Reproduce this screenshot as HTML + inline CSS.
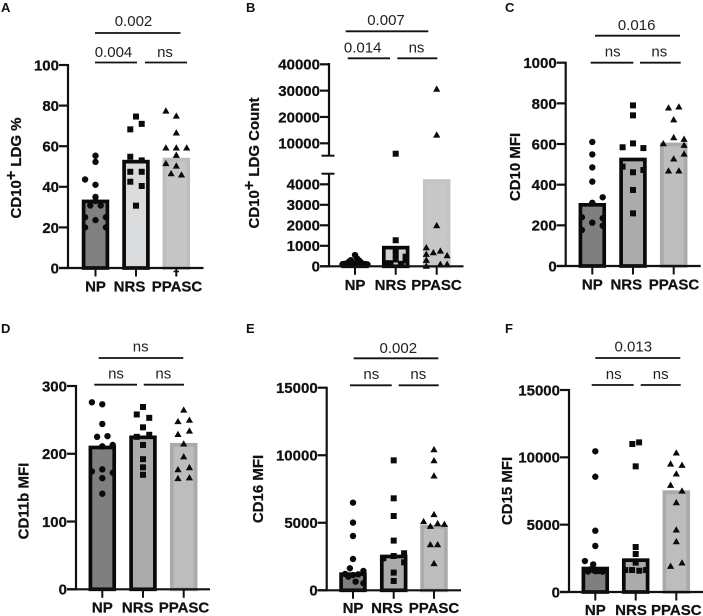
<!DOCTYPE html>
<html lang="en">
<head>
<meta charset="utf-8">
<title>CD10+ LDG panels</title>
<style>
html,body{margin:0;padding:0;background:#fff;}
body{width:703px;height:616px;overflow:hidden;}
svg{display:block;font-family:"Liberation Sans",sans-serif;}
.letter{font-size:13px;font-weight:700;fill:#111;}
.title{font-size:15px;font-weight:700;fill:#111;stroke:#111;stroke-width:.25px;text-anchor:middle;}
.cat{font-size:15px;font-weight:700;fill:#111;stroke:#111;stroke-width:.25px;text-anchor:middle;}
.tick{font-size:15px;font-weight:700;fill:#111;stroke:#111;stroke-width:.25px;text-anchor:end;}
.sig{font-size:15px;fill:#222;text-anchor:middle;}
.sl{stroke:#111;stroke-width:1.8;}
</style>
</head>
<body>
<svg id="figure" width="703" height="616" viewBox="0 0 703 616" xmlns="http://www.w3.org/2000/svg">
  <rect width="703" height="616" fill="#fff"/>

  <text class="letter" x="1" y="12">A</text>
  <text class="letter" x="246" y="12">B</text>
  <text class="letter" x="505" y="12">C</text>
  <text class="letter" x="1" y="333">D</text>
  <text class="letter" x="246" y="333">E</text>
  <text class="letter" x="505" y="333">F</text>

  <text class="title" transform="translate(21 168) rotate(-90)">CD10<tspan font-size="16" dy="-5">+</tspan><tspan dy="5"> LDG %</tspan></text>
  <text class="title" transform="translate(259 163) rotate(-90)">CD10<tspan font-size="16" dy="-5">+</tspan><tspan dy="5"> LDG Count</tspan></text>
  <text class="title" transform="translate(520 167) rotate(-90)">CD10 MFI</text>
  <text class="title" transform="translate(28.500 501) rotate(-90)">CD11b MFI</text>
  <text class="title" transform="translate(263 489) rotate(-90)">CD16 MFI</text>
  <text class="title" transform="translate(512 491) rotate(-90)">CD15 MFI</text>

  <g>
    <text class="cat" x="95.500" y="291.500">NP</text>
    <text class="cat" x="129.500" y="291.500">NRS</text>
    <text class="cat" x="177" y="291.500">PPASC</text>
  </g>
  <g>
    <text class="cat" x="355" y="290">NP</text>
    <text class="cat" x="390.500" y="290">NRS</text>
    <text class="cat" x="436.500" y="290">PPASC</text>
  </g>
  <g>
    <text class="cat" x="592.300" y="289.500">NP</text>
    <text class="cat" x="626.300" y="289.500">NRS</text>
    <text class="cat" x="674" y="289.500">PPASC</text>
  </g>
  <g>
    <text class="cat" x="102.300" y="612.500">NP</text>
    <text class="cat" x="137.700" y="612.500">NRS</text>
    <text class="cat" x="184" y="612.500">PPASC</text>
  </g>
  <g>
    <text class="cat" x="353" y="613">NP</text>
    <text class="cat" x="387" y="613">NRS</text>
    <text class="cat" x="434" y="613">PPASC</text>
  </g>
  <g>
    <text class="cat" x="595.300" y="615">NP</text>
    <text class="cat" x="631" y="615">NRS</text>
    <text class="cat" x="676.300" y="615">PPASC</text>
  </g>

  <g>
    <line class="sl" x1="95" x2="180.500" y1="33" y2="33"/>
    <text class="sig" x="133.500" y="26">0.002</text>
    <line class="sl" x1="95" x2="137" y1="62.500" y2="62.500"/>
    <text class="sig" x="113.500" y="57">0.004</text>
    <line class="sl" x1="145" x2="187" y1="62.500" y2="62.500"/>
    <text class="sig" x="165" y="57">ns</text>
  </g>
  <g>
    <line class="sl" x1="345.700" x2="428.300" y1="31.300" y2="31.300"/>
    <text class="sig" x="386" y="25">0.007</text>
    <line class="sl" x1="347.700" x2="390" y1="58.300" y2="58.300"/>
    <text class="sig" x="362.700" y="52.500">0.014</text>
    <line class="sl" x1="397.300" x2="437.300" y1="58.300" y2="58.300"/>
    <text class="sig" x="416.500" y="52.500">ns</text>
  </g>
  <g>
    <line class="sl" x1="595" x2="680" y1="35.700" y2="35.700"/>
    <text class="sig" x="636.700" y="30">0.016</text>
    <line class="sl" x1="590.700" x2="633.300" y1="62.700" y2="62.700"/>
    <text class="sig" x="612.700" y="56.700">ns</text>
    <line class="sl" x1="640" x2="680.700" y1="62.700" y2="62.700"/>
    <text class="sig" x="659.300" y="56.700">ns</text>
  </g>
  <g>
    <line class="sl" x1="98.700" x2="183.300" y1="358" y2="358"/>
    <text class="sig" x="140.700" y="351.500">ns</text>
    <line class="sl" x1="94.300" x2="137" y1="384.700" y2="384.700"/>
    <text class="sig" x="116" y="378.500">ns</text>
    <line class="sl" x1="143.700" x2="184" y1="384.700" y2="384.700"/>
    <text class="sig" x="163.300" y="378.500">ns</text>
  </g>
  <g>
    <line class="sl" x1="353.700" x2="438.300" y1="358.300" y2="358.300"/>
    <text class="sig" x="398.300" y="353">0.002</text>
    <line class="sl" x1="350" x2="391.700" y1="385.300" y2="385.300"/>
    <text class="sig" x="371.300" y="379">ns</text>
    <line class="sl" x1="398.700" x2="438.700" y1="385.300" y2="385.300"/>
    <text class="sig" x="418.300" y="379">ns</text>
  </g>
  <g>
    <line class="sl" x1="595.300" x2="680.300" y1="358" y2="358"/>
    <text class="sig" x="633.300" y="351.500">0.013</text>
    <line class="sl" x1="591.700" x2="633.700" y1="385" y2="385"/>
    <text class="sig" x="613.700" y="379">ns</text>
    <line class="sl" x1="640.700" x2="680.700" y1="385" y2="385"/>
    <text class="sig" x="660.700" y="379">ns</text>
  </g>
  <line x1="173.500" x2="179" y1="271.500" y2="271.500" stroke="#111" stroke-width="1.5"/>
</svg>

<script>
// ---- Data ----
const categories = ['np', 'nrs', 'ppasc'];

const ticksA = [0, 20, 40, 60, 80, 100];
const meansA = [33.7, 53.3, 54.3];
const npValuesA = [55.3, 52.3, 43.6, 41, 35, 33, 30.8, 30.8, 25, 25, 23.6, 20, 20];
const npSlotsA = [0, 0, -2, 0, 0, 0, -1, 1, -2, 2, 0, -2, 2];
const nrsValuesA = [74.6, 71, 68.3, 54.8, 53, 47.4, 47.4, 42.5, 40.4, 30.7];
const nrsSlotsA = [0, 1.1, -1.1, -1.1, 1.1, -1.1, 1.1, -1.1, 1.1, 0];
const ppascValuesA = [77.5, 75, 66.7, 59.3, 59.3, 59.3, 55.7, 51.6, 50.4, 46.6, 46];
const ppascSlotsA = [-2, 0, 0, -2, 0, 2, 0, -2, 0, -1, 1];

const ticksLowB = [0, 1000, 2000, 3000, 4000];
const ticksHighB = [10000, 20000, 30000, 40000];
const meansB = [200, 1000, 4250];
const npValuesB = [550, 380, 300, 280, 220, 180, 150, 150, 120, 110, 100, 90];
const npSlotsB = [0, 0.4, -0.8, 0.8, -1.2, 1.2, -0.4, 0.4, -2, 2, -2.4, 2.4];
const nrsValuesB = [6050, 1270, 470, 280, 800, 560, 330, 150, 150, 120];
const nrsSlotsB = [0, 0, 1.9, 1.9, 0, 0, 0, -1.9, -1, 1];
const ppascValuesB = [30700, 13270, 2000, 925, 760, 680, 600, 535, 310, 110, 110, 20];
const ppascSlotsB = [0, 0, 0, -2, 0.7, -0.65, -2, 2, -2, 0.7, 2, -2];

const ticksC = [0, 200, 400, 600, 800, 1000];
const meansC = [310, 533, 607];
const npValuesC = [610, 549, 485, 415, 338, 311, 240, 235, 213, 198, 177];
const npSlotsC = [0, 0, 0, 0, 2, 0, -2, 2, 0, 2, -2];
const nrsValuesC = [790, 741, 603, 584, 580, 489, 472, 461, 374, 259];
const nrsSlotsC = [0, 0, 0, -2, 2, -2, 2, 0, 0, 0];
const ppascValuesC = [779, 784, 721, 633, 603, 625, 595, 552, 528, 469, 469];
const ppascSlotsC = [-1, 1, 0, 0, -2, 2, 2, 2, 0, -1, 1];

const ticksD = [0, 100, 200, 300];
const meansD = [212, 227, 216];
const npValuesD = [276, 273, 244, 225, 226, 211, 213, 174, 177, 172, 164, 141];
const npSlotsD = [-2, 0, 0, -1, 1, 0, 2, -2, 0, 2, 0, 0];
const nrsValuesD = [269, 258, 253, 239, 225, 228, 213, 192, 180, 169];
const nrsSlotsD = [0, -1.2, 1.2, 0, -1.2, 1.2, 0, 0, 0, 0];
const ppascValuesD = [265, 248, 250, 234, 229, 215, 196, 180, 177, 165, 164];
const ppascSlotsD = [0, -1.1, 1.1, 1.1, -1.1, 0, 0, 1.1, -1.1, 1.1, -1.1];

const ticksE = [0, 5000, 10000, 15000];
const meansE = [1330, 2640, 4840];
const npValuesE = [6490, 5010, 4020, 2320, 1630, 1430, 1210, 1130, 1180, 1010, 640, 520];
const npSlotsE = [0, 0, 0, 0, -0.6, 2, -1.5, 0, 1, -0.9, 0.5, 2];
const nrsValuesE = [9620, 6810, 5500, 3680, 2740, 2370, 2540, 2070, 1310, 690];
const nrsSlotsE = [0, 0, 0, 0, 2, -2, 0, 2, 0, 0];
const ppascValuesE = [10440, 9620, 8490, 5630, 5110, 4960, 4760, 4910, 3400, 3400, 2000];
const ppascSlotsE = [0, 0, 0, 0, -2, 0.7, -0.7, 2, -0.7, 0.7, 0];

const ticksF = [0, 5000, 10000, 15000];
const meansF = [1880, 2500, 7550];
const npValuesF = [10450, 8560, 4550, 3420, 2300, 2050, 1680, 1630, 1560, 1510, 1550, 1520];
const npSlotsF = [0, 0, 0, 0, -2, -0.4, -0.9, -0.4, 0.6, 1.4, 0, -1.4];
const nrsValuesF = [11110, 10990, 9330, 3340, 2820, 2180, 1630, 1630, 1580, 1630];
const nrsSlotsF = [0.65, -0.65, 0, 0, 0, 0, -2, -0.7, 0.7, 2];
const ppascValuesF = [10350, 9530, 9430, 8790, 7950, 7520, 6660, 4630, 3760, 1930, 2180];
const ppascSlotsF = [0, -1.1, 1.1, 0, -1.1, 1.1, 0, 0, 0, -1.1, 1.1];

// ---- Rendering ----
const NS = 'http://www.w3.org/2000/svg';
const figure = document.getElementById('figure');
const SLOT_PX = 5.2;
const BAR_WIDTH = 27.5;
const BAR_STROKE = 3.7;

function make(parent, tag, attrs) {
  const el = document.createElementNS(NS, tag);
  for (const key in attrs) el.setAttribute(key, attrs[key]);
  parent.appendChild(el);
  return el;
}

function linearAxis(v0, v1, p0, p1) {
  return function (v) { return p0 + (v - v0) * (p1 - p0) / (v1 - v0); };
}

function drawMarker(parent, shape, cx, cy, label) {
  let el;
  if (shape === 'circle') {
    el = make(parent, 'circle', { cx: cx, cy: cy, r: 3.2, fill: '#0a0a0a' });
  } else if (shape === 'square') {
    el = make(parent, 'rect', { x: cx - 3, y: cy - 3, width: 6, height: 6, fill: '#0a0a0a' });
  } else {
    el = make(parent, 'polygon', {
      points: (cx - 3.6) + ',' + (cy + 2.9) + ' ' + (cx + 3.6) + ',' + (cy + 2.9) + ' ' + cx + ',' + (cy - 3.4),
      fill: '#0a0a0a'
    });
  }
  
  
}

function drawPanel(p) {
  const g = make(figure, 'g', {});
  
  

  // bars
  p.means.forEach(function (m, i) {
    const cx = p.centres[i];
    const top = p.y(m);
    const inset = BAR_STROKE / 2;
    const bar = make(g, 'rect', {
      x: cx - BAR_WIDTH / 2 + inset,
      y: top + inset,
      width: BAR_WIDTH - BAR_STROKE,
      height: Math.max(0, p.y0 - top - inset),
      fill: p.fills[i],
      stroke: p.strokes[i],
      'stroke-width': BAR_STROKE
    });
    
    
  });

  // points
  const shapes = ['circle', 'square', 'triangle'];
  p.values.forEach(function (series, i) {
    series.forEach(function (v, j) {
      drawMarker(g, shapes[i], p.centres[i] + p.slots[i][j] * SLOT_PX, p.y(v), 'point-' + categories[i] + '-' + p.id);
    });
  });

  // y axis segments
  p.segments.forEach(function (seg) {
    const axis = make(g, 'line', { x1: p.axisX, x2: p.axisX, y1: seg[0], y2: seg[1], stroke: '#111', 'stroke-width': 2.2 });
    
    
  });

  // x axis
  const xAxis = make(g, 'line', { x1: p.axisX - 9, x2: p.xEnd, y1: p.y0, y2: p.y0, stroke: '#111', 'stroke-width': 2.2 });
  
  

  // x ticks
  p.centres.forEach(function (cx, i) {
    const t = make(g, 'line', { x1: cx, x2: cx, y1: p.y0, y2: p.y0 + 8.5, stroke: '#111', 'stroke-width': 2 });
    
    
  });

  // y ticks and labels
  p.ticks.forEach(function (v) {
    const py = p.y(v);
    const t = make(g, 'line', { x1: p.axisX - 9, x2: p.axisX, y1: py, y2: py, stroke: '#111', 'stroke-width': 2.2 });
    
    
    const label = make(g, 'text', { class: 'tick', x: p.axisX - 9, y: py + 5.4 });
    label.textContent = String(v);
    
    
  });

  // axis break caps
  (p.caps || []).forEach(function (cy) {
    const c = make(g, 'line', { x1: p.axisX - 7.5, x2: p.axisX + 5.5, y1: cy, y2: cy, stroke: '#111', 'stroke-width': 2 });
    
    
  });
}

const lightFills = ['#808080', '#d9dbdc', '#c6c6c6'];
const lightStrokes = ['#0a0a0a', '#0a0a0a', '#bdbdbd'];
const darkFills = ['#7f7f7f', '#ababab', '#bdbdbd'];
const darkStrokes = ['#0a0a0a', '#0a0a0a', '#aaaaaa'];

drawPanel({
  id: 'a', axisX: 68, y0: 268, xEnd: 203.500, centres: [95.500, 136, 176.300],
  y: linearAxis(0, 100, 268, 65), ticks: ticksA, means: meansA,
  values: [npValuesA, nrsValuesA, ppascValuesA], slots: [npSlotsA, nrsSlotsA, ppascSlotsA],
  segments: [[64, 269]], fills: lightFills, strokes: lightStrokes
});

const lowB = linearAxis(0, 4000, 266.300, 184.300);
const highB = linearAxis(10000, 40000, 143.300, 64.300);
const BREAK_B = 4520;
drawPanel({
  id: 'b', axisX: 329, y0: 266.300, xEnd: 463.500, centres: [355, 395.700, 436.700],
  y: function (v) { return v <= BREAK_B ? lowB(v) : highB(v); },
  ticks: ticksLowB.concat(ticksHighB), means: meansB,
  values: [npValuesB, nrsValuesB, ppascValuesB], slots: [npSlotsB, nrsSlotsB, ppascSlotsB],
  segments: [[63, 155.700], [173.700, 267.300]], caps: [155.700, 173.700],
  fills: ['#808080', '#cfd2d3', '#c8c8c8'], strokes: ['#0a0a0a', '#0a0a0a', '#c4c4c4']
});

drawPanel({
  id: 'c', axisX: 565.700, y0: 266, xEnd: 700.700, centres: [592.300, 633, 673.700],
  y: linearAxis(0, 1000, 266, 62.700), ticks: ticksC, means: meansC,
  values: [npValuesC, nrsValuesC, ppascValuesC], slots: [npSlotsC, nrsSlotsC, ppascSlotsC],
  segments: [[61.700, 267]], fills: darkFills, strokes: darkStrokes
});

drawPanel({
  id: 'd', axisX: 76, y0: 589.300, xEnd: 210, centres: [102.300, 143, 183.700],
  y: linearAxis(0, 300, 589.300, 386), ticks: ticksD, means: meansD,
  values: [npValuesD, nrsValuesD, ppascValuesD], slots: [npSlotsD, nrsSlotsD, ppascSlotsD],
  segments: [[385, 590.300]], fills: darkFills, strokes: darkStrokes
});

drawPanel({
  id: 'e', axisX: 326.700, y0: 590.300, xEnd: 461, centres: [353, 393.700, 434],
  y: linearAxis(0, 15000, 590.300, 387.700), ticks: ticksE, means: meansE,
  values: [npValuesE, nrsValuesE, ppascValuesE], slots: [npSlotsE, nrsSlotsE, ppascSlotsE],
  segments: [[386.700, 591.300]], fills: darkFills, strokes: darkStrokes
});

drawPanel({
  id: 'f', axisX: 569, y0: 592, xEnd: 703, centres: [595.300, 635.700, 676.300],
  y: linearAxis(0, 15000, 592, 390), ticks: ticksF, means: meansF,
  values: [npValuesF, nrsValuesF, ppascValuesF], slots: [npSlotsF, nrsSlotsF, ppascSlotsF],
  segments: [[389, 593]], fills: darkFills, strokes: darkStrokes
});
</script>
</body>
</html>
